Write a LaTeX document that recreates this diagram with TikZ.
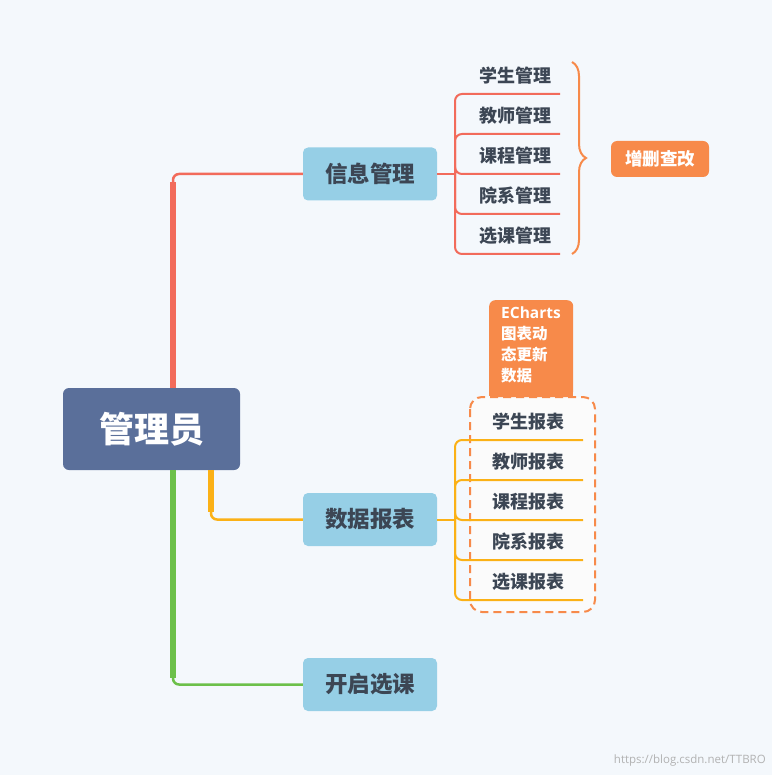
\documentclass[tikz,border=0pt]{standalone}
\usepackage{fontspec}
\setmainfont{Noto Sans CJK SC}
\newfontfamily\lat{Open Sans}
\usetikzlibrary{decorations.pathreplacing}
\definecolor{bg}{HTML}{F4F8FC}
\definecolor{rootc}{HTML}{5A6F9A}
\definecolor{boxc}{HTML}{96CFE6}
\definecolor{txt}{HTML}{3C4654}
\definecolor{redl}{HTML}{F26B5B}
\definecolor{orl}{HTML}{FBB116}
\definecolor{grl}{HTML}{6CC04A}
\definecolor{tag}{HTML}{F78A4A}
\begin{document}
\begin{tikzpicture}[x=1pt,y=-1pt,
  box/.style={fill=boxc,rounded corners=5pt,minimum width=134pt,minimum height=53pt,inner sep=0pt,text=txt,font=\fontsize{22.5}{26}\selectfont\bfseries},
  leaf/.style={text=txt,font=\fontsize{18}{20}\selectfont\bfseries,inner sep=0pt},
  tagbox/.style={fill=tag,rounded corners=6pt,text=white,font=\fontsize{17.5}{20}\selectfont\bfseries,inner sep=0pt}]
\fill[bg] (0,0) rectangle (772,775);
\node[fill=rootc,rounded corners=6pt,minimum width=177pt,minimum height=82pt,text=white,font=\fontsize{35}{38}\selectfont\bfseries] (root) at (151.5,429) {管理员};
\node[box] (info) at (370,174) {信息管理};
\node[box] (data) at (370,519.5) {数据报表};
\node[box] (open) at (370,684.5) {开启选课};
% main branches
\draw[redl,line width=6pt] (173,388) -- (173,182);
\draw[redl,line width=2.5pt,rounded corners=6pt] (173,190) |- (info.west);
\draw[orl,line width=6pt] (211,470) -- (211,512);
\draw[orl,line width=2.5pt,rounded corners=6pt] (211,505) |- (data.west);
\draw[grl,line width=6pt] (173,470) -- (173,678);
\draw[grl,line width=2.5pt,rounded corners=6pt] (173,670) |- (open.west);
% info leaves
\foreach \t [count=\i] in {学生管理,教师管理,课程管理,院系管理,选课管理}{
  \node[leaf] (il\i) at (515,76+40*\i-40) {\t};
  \coordinate (iu\i) at (560,94+40*\i-40);
}
\coordinate (ij) at (455,174);
\draw[redl,line width=2pt] (info.east) -- (ij);
\foreach \i in {1,...,5}{\draw[redl,line width=2pt,rounded corners=7pt] (ij) |- (iu\i);}
\draw[tag,line width=2pt,decorate,decoration={brace,amplitude=14pt,aspect=0.5}] (572,62) -- (572,254);
\node[tagbox,minimum width=98pt,minimum height=36pt] (crud) at (660,159) {增删查改};
% data dashed box
\draw[tag,line width=2pt,dash pattern=on 8pt off 5pt,fill=white!95!gray!60,rounded corners=12pt] (470,397) rectangle (595,612);
\node[tagbox,minimum width=84pt,minimum height=97pt,anchor=north west,rounded corners=6pt] (ech) at (489,300) {};
\node[anchor=north west,text=white,font=\fontsize{15.5}{21}\selectfont\bfseries,align=left,inner sep=0pt] (echt) at (501,307) {{\lat ECharts}\\图表动\\态更新\\数据};
\fill[tag] (489,385) rectangle (573,396);
\foreach \t [count=\i] in {学生报表,教师报表,课程报表,院系报表,选课报表}{
  \node[leaf] (dl\i) at (528,422+40*\i-40) {\t};
  \coordinate (du\i) at (583,440+40*\i-40);
}
\coordinate (dj) at (455,519.5);
\draw[orl,line width=2pt] (data.east) -- (dj);
\foreach \i in {1,...,5}{\draw[orl,line width=2pt,rounded corners=7pt] (dj) |- (du\i);}
\node[anchor=south east,text=gray!60,font=\lat\fontsize{11.5}{13}\selectfont,inner sep=0pt] (wm) at (766,766) {https://blog.csdn.net/TTBRO};
\end{tikzpicture}
\end{document}
